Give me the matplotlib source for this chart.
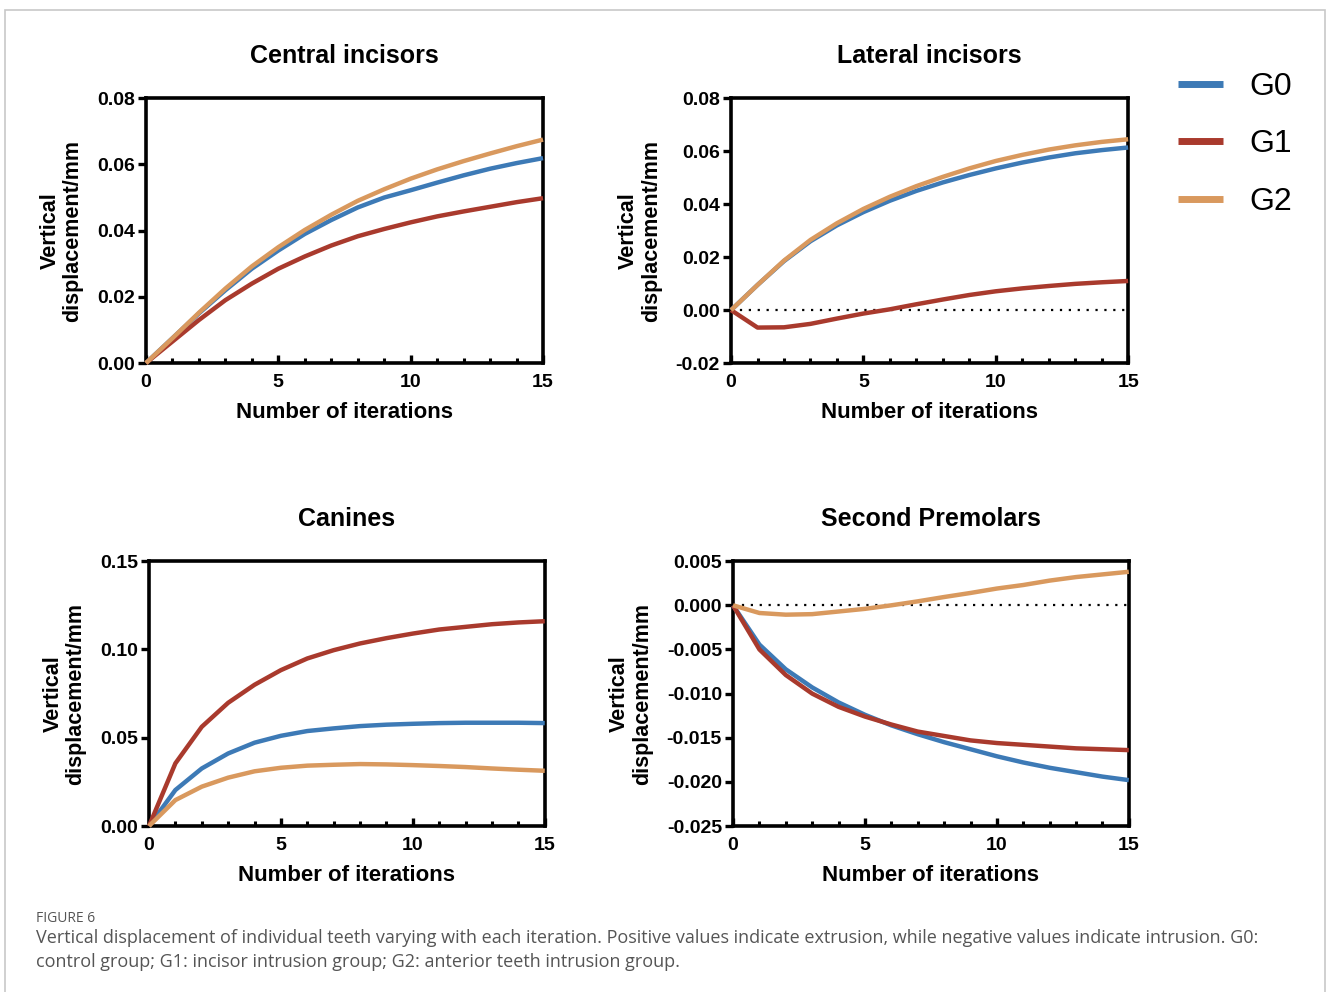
import numpy as np
import matplotlib
matplotlib.use('Agg')
import matplotlib.pyplot as plt
from matplotlib.patches import Rectangle
from matplotlib.lines import Line2D

plt.rcParams['font.family'] = ['Liberation Sans', 'DejaVu Sans']

iters = np.arange(16)
groups = ['G0', 'G1', 'G2']
colors = ['#3D7AB6', '#A93A2D', '#D9995E']

central = {
    'G0': [0, 0.0075, 0.0150, 0.0220, 0.0285, 0.0340, 0.0390, 0.0432, 0.0470, 0.0500, 0.0522, 0.0545, 0.0567, 0.0587, 0.0604, 0.0619],
    'G1': [0, 0.0065, 0.0130, 0.0190, 0.0240, 0.0285, 0.0322, 0.0355, 0.0383, 0.0405, 0.0425, 0.0443, 0.0458, 0.0472, 0.0486, 0.0498],
    'G2': [0, 0.0075, 0.0152, 0.0225, 0.0292, 0.0350, 0.0402, 0.0448, 0.0490, 0.0525, 0.0557, 0.0585, 0.0610, 0.0633, 0.0655, 0.0675],
}
lateral = {
    'G0': [0, 0.0095, 0.0185, 0.0260, 0.0320, 0.0370, 0.0413, 0.0450, 0.0482, 0.0510, 0.0535, 0.0557, 0.0576, 0.0592, 0.0604, 0.0614],
    'G1': [0, -0.0066, -0.0065, -0.0052, -0.0032, -0.0013, 0.0003, 0.0022, 0.0040, 0.0057, 0.0071, 0.0082, 0.0091, 0.0099, 0.0105, 0.0110],
    'G2': [0, 0.0095, 0.0187, 0.0265, 0.0328, 0.0382, 0.0428, 0.0468, 0.0503, 0.0535, 0.0563, 0.0586, 0.0606, 0.0622, 0.0635, 0.0645],
}
canines = {
    'G0': [0, 0.0204, 0.0326, 0.0411, 0.0472, 0.0511, 0.0538, 0.0553, 0.0566, 0.0574, 0.0579, 0.0583, 0.0585, 0.0585, 0.0585, 0.0583],
    'G1': [0, 0.0355, 0.0562, 0.0698, 0.0800, 0.0883, 0.0949, 0.0996, 0.1034, 0.1064, 0.1090, 0.1113, 0.1128, 0.1143, 0.1153, 0.1160],
    'G2': [0, 0.0147, 0.0223, 0.0274, 0.0310, 0.0330, 0.0342, 0.0347, 0.0351, 0.0349, 0.0345, 0.0340, 0.0334, 0.0326, 0.0319, 0.0313],
}
premolars = {
    'G0': [0, -0.00445, -0.00725, -0.0093, -0.0110, -0.0124, -0.0136, -0.0146, -0.0155, -0.0163, -0.0171, -0.0178, -0.0184, -0.0189, -0.0194, -0.0198],
    'G1': [0, -0.0050, -0.0079, -0.0100, -0.0115, -0.0126, -0.0135, -0.0143, -0.0148, -0.0153, -0.0156, -0.0158, -0.0160, -0.0162, -0.0163, -0.0164],
    'G2': [0, -0.00087, -0.00106, -0.0010, -0.0007, -0.0004, 0.0, 0.00045, 0.00094, 0.0014, 0.0019, 0.0023, 0.0028, 0.0032, 0.0035, 0.0038],
}

panels = [
    ('Central incisors', central, (0, 0.08), np.arange(0, 0.081, 0.02), '{:.2f}', False, [0.1099, 0.634, 0.299, 0.267]),
    ('Lateral incisors', lateral, (-0.02, 0.08), np.arange(-0.02, 0.081, 0.02), '{:.2f}', True, [0.5505, 0.634, 0.299, 0.267]),
    ('Canines', canines, (0, 0.15), np.arange(0, 0.151, 0.05), '{:.2f}', False, [0.1122, 0.1673, 0.298, 0.267]),
    ('Second Premolars', premolars, (-0.025, 0.005), np.arange(-0.025, 0.0051, 0.005), '{:.3f}', True, [0.552, 0.1673, 0.298, 0.267]),
]

fig = plt.figure(figsize=(13.28, 9.92), dpi=100)

# outer frame
fig.patches.append(Rectangle((0.004, -0.01), 0.994, 1.0, transform=fig.transFigure,
                             fill=False, edgecolor='#c8c8c8', linewidth=1.2))

for title, data, ylim, yticks, fmt, zero_line, pos in panels:
    ax = fig.add_axes(pos)
    if zero_line:
        ax.axhline(0, color='black', linestyle=(0, (1, 3)), linewidth=1.6, zorder=1)
    for g, c in zip(groups, colors):
        ax.plot(iters, data[g], color=c, linewidth=3.2, solid_capstyle='butt', zorder=3, clip_on=False)
    ax.set_xlim(0, 15)
    ax.set_ylim(*ylim)
    ax.set_xticks([0, 5, 10, 15])
    ax.set_xticks(np.arange(16), minor=True)
    ax.set_yticks(yticks)
    ax.set_yticklabels([fmt.format(v) if abs(v) > 1e-12 else fmt.format(0.0) for v in yticks])
    for s in ax.spines.values():
        s.set_linewidth(2.6)
    ax.tick_params(axis='x', which='major', direction='in', length=6, width=2.4, labelsize=14, pad=8)
    ax.tick_params(axis='x', which='minor', direction='in', length=3.5, width=2.2)
    ax.tick_params(axis='y', which='major', direction='out', length=6, width=2.4, labelsize=14, pad=2)
    for lab in ax.get_xticklabels() + ax.get_yticklabels():
        lab.set_fontweight('bold')
    ax.set_title(title, fontsize=18, fontweight='bold', pad=25)
    ax.set_xlabel('Number of iterations', fontsize=16, fontweight='bold', labelpad=8)
    ax.set_ylabel('Vertical\ndisplacement/mm', fontsize=15.5, fontweight='bold', labelpad=10, linespacing=1.1)

# legend, drawn by hand at the top right
legend_y = [0.9153, 0.8579, 0.7994]
for g, c, yy in zip(groups, colors, legend_y):
    fig.add_artist(Line2D([0.887, 0.921], [yy, yy], transform=fig.transFigure,
                          color=c, linewidth=5.0, solid_capstyle='butt'))
    fig.text(0.9405, yy - 0.003, g, fontsize=23, va='center', ha='left')

# caption
fig.text(0.027, 0.0705, 'FIGURE 6', fontsize=10, color='#555555', family=['Open Sans', 'DejaVu Sans'])
fig.text(0.027, 0.0495, 'Vertical displacement of individual teeth varying with each iteration. Positive values indicate extrusion, while negative values indicate intrusion. G0:',
         fontsize=13, color='#555555', family=['Open Sans', 'DejaVu Sans'])
fig.text(0.027, 0.0255, 'control group; G1: incisor intrusion group; G2: anterior teeth intrusion group.',
         fontsize=13, color='#555555', family=['Open Sans', 'DejaVu Sans'])

fig.savefig('out.png', dpi=100)
